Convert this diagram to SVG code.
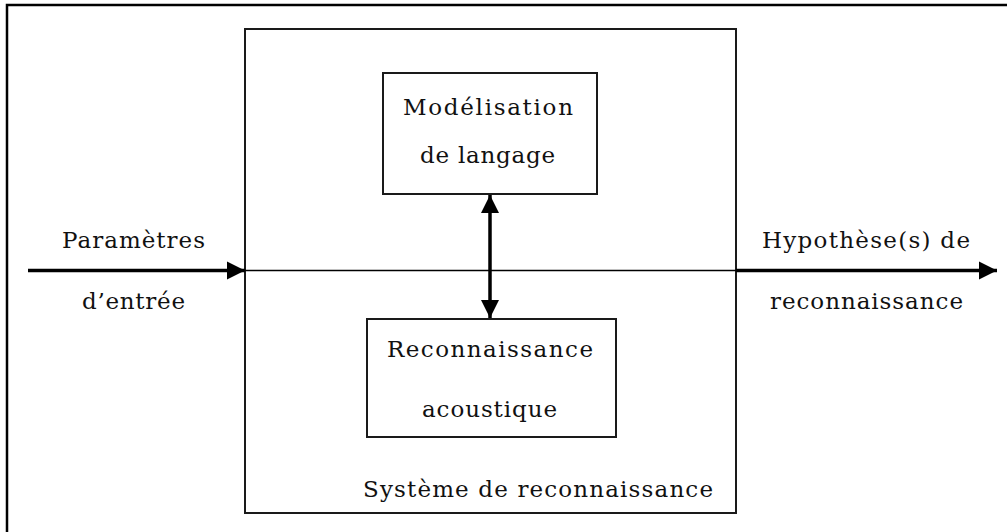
<svg xmlns="http://www.w3.org/2000/svg" width="1007" height="532" viewBox="0 0 1007 532">
  <style>
    .frame { fill: none; stroke: #000; stroke-width: 2.5; }
    .box { fill: #fff; stroke: #1a1a1a; stroke-width: 2; }
    .lbl { font-family: "DejaVu Serif", "Liberation Serif", serif; font-size: 23px; fill: #111; }
    .thick { stroke: #000; stroke-width: 3.5; fill: none; }
    .thin { stroke: #000; stroke-width: 1.5; fill: none; }
  </style>
  <defs>
    <marker id="head" markerUnits="userSpaceOnUse" markerWidth="20" markerHeight="20" viewBox="0 0 20 20" refX="19" refY="10" orient="auto-start-reverse">
      <path d="M1,1 L19,10 L1,19 Z" fill="#000"/>
    </marker>
  </defs>

  <rect width="1007" height="532" fill="#fff"/>

  <!-- outer frame, open on the right and bottom -->
  <path class="frame" d="M7,540 L7,5 L1015,5"/>

  <!-- recognition system container -->
  <g id="systeme">
    <rect class="box" x="245" y="29" width="491" height="484"/>
    <text class="lbl" x="363" y="497" textLength="350" lengthAdjust="spacing">Système de reconnaissance</text>
  </g>

  <!-- connectors -->
  <g id="connectors">
    <line class="thin" x1="245" y1="270.5" x2="736" y2="270.5"/>
    <line class="thick" x1="28" y1="270.5" x2="245" y2="270.5" marker-end="url(#head)"/>
    <line class="thick" x1="736" y1="270.5" x2="997" y2="270.5" marker-end="url(#head)"/>
    <line class="thick" x1="490" y1="195" x2="490" y2="318" marker-start="url(#head)" marker-end="url(#head)"/>
  </g>

  <g id="modelisation">
    <rect class="box" x="383" y="73" width="214" height="121"/>
    <text class="lbl" x="403" y="115" textLength="170" lengthAdjust="spacing">Modélisation</text>
    <text class="lbl" x="420" y="163" textLength="135" lengthAdjust="spacing">de langage</text>
  </g>

  <g id="reconnaissance-acoustique">
    <rect class="box" x="367" y="319" width="249" height="118"/>
    <text class="lbl" x="387" y="357" textLength="206" lengthAdjust="spacing">Reconnaissance</text>
    <text class="lbl" x="422" y="417" textLength="135" lengthAdjust="spacing">acoustique</text>
  </g>

  <g id="entree">
    <text class="lbl" x="62" y="248" textLength="143" lengthAdjust="spacing">Paramètres</text>
    <text class="lbl" x="82" y="309" textLength="103" lengthAdjust="spacing">d’entrée</text>
  </g>

  <g id="sortie">
    <text class="lbl" x="762" y="248" textLength="208" lengthAdjust="spacing">Hypothèse(s) de</text>
    <text class="lbl" x="770" y="309" textLength="193" lengthAdjust="spacing">reconnaissance</text>
  </g>
</svg>
